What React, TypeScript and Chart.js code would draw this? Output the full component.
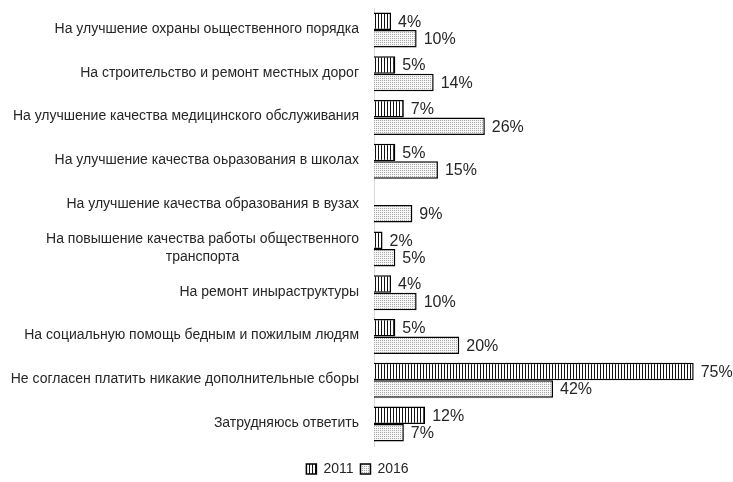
import React, { useEffect, useRef } from "react";
import { Chart, registerables } from "chart.js";

Chart.register(...registerables);

const categories: string[] = [
  "На улучшение охраны оьщественного порядка",
  "На строительство и ремонт местных дорог",
  "На улучшение качества медицинского обслуживания",
  "На улучшение качества оьразования в школах",
  "На улучшение качества образования в вузах",
  "На повышение качества работы общественного\nтранспорта",
  "На ремонт иныраструктуры",
  "На социальную помощь бедным и пожилым людям",
  "Не согласен платить никакие дополнительные сборы",
  "Затрудняюсь ответить",
];
const values2011: (number | null)[] = [4, 5, 7, 5, null, 2, 4, 5, 75, 12];
const values2016: (number | null)[] = [10, 14, 26, 15, 9, 5, 10, 20, 42, 7];
const seriesNames: string[] = ["2011", "2016"];

function makeStripes(): CanvasPattern | string {
  const c = document.createElement("canvas");
  c.width = 3;
  c.height = 3;
  const g = c.getContext("2d");
  if (!g) return "#888";
  g.fillStyle = "#ffffff";
  g.fillRect(0, 0, 3, 3);
  g.fillStyle = "#111111";
  g.fillRect(0, 0, 1, 3);
  return g.createPattern(c, "repeat") || "#888";
}

function makeDots(): CanvasPattern | string {
  const c = document.createElement("canvas");
  c.width = 2;
  c.height = 2;
  const g = c.getContext("2d");
  if (!g) return "#ccc";
  g.fillStyle = "#f6f6f6";
  g.fillRect(0, 0, 2, 2);
  g.fillStyle = "#a8a8a8";
  g.fillRect(0, 0, 1, 1);
  return g.createPattern(c, "repeat") || "#ccc";
}

const FONT = "'Liberation Sans', Arial, sans-serif";

const labelPlugin = {
  id: "customLabels",
  afterDraw(chart: any) {
    const ctx = chart.ctx;
    const yScale = chart.scales.y;
    ctx.save();
    ctx.font = `14px ${FONT}`;
    ctx.fillStyle = "#262626";
    ctx.textBaseline = "middle";
    ctx.textAlign = "center";
    const rightEdge = 359;
    categories.forEach((lab, i) => {
      const lines = lab.split("\n");
      const w = Math.max(...lines.map((l) => ctx.measureText(l).width));
      const cx = rightEdge - w / 2;
      const y0 = yScale.getPixelForTick(i) - 1;
      const lh = 18;
      lines.forEach((l, j) => {
        ctx.fillText(l, cx, y0 + (j - (lines.length - 1) / 2) * lh);
      });
    });
    ctx.font = `16px ${FONT}`;
    ctx.fillStyle = "#262626";
    ctx.textAlign = "left";
    chart.data.datasets.forEach((ds: any, di: number) => {
      const meta = chart.getDatasetMeta(di);
      meta.data.forEach((el: any, i: number) => {
        const v = ds.data[i];
        if (v === null || v === undefined) return;
        ctx.fillText(`${v}%`, el.x + 7, el.y + 1);
      });
    });
    ctx.restore();
  },
};

export default function App() {
  const ref = useRef<HTMLCanvasElement | null>(null);
  useEffect(() => {
    if (!ref.current) return;
    const chart = new Chart(ref.current, {
      type: "bar",
      data: {
        labels: categories,
        datasets: [
          {
            label: seriesNames[0],
            data: values2011,
            backgroundColor: makeStripes() as any,
            borderColor: "#000000",
            borderWidth: 1.5,
            categoryPercentage: 0.8,
            barPercentage: 1.0,
          },
          {
            label: seriesNames[1],
            data: values2016,
            backgroundColor: makeDots() as any,
            borderColor: "#000000",
            borderWidth: 1.5,
            categoryPercentage: 0.8,
            barPercentage: 1.0,
          },
        ],
      },
      options: {
        indexAxis: "y",
        animation: false,
        responsive: true,
        maintainAspectRatio: false,
        layout: { padding: { top: 8, right: 18, bottom: -4, left: 0 } },
        scales: {
          x: {
            min: 0,
            max: 80,
            display: true,
            grid: { display: false },
            border: { display: false },
            ticks: { display: false },
            afterFit: (scale: any) => {
              scale.height = 9;
            },
          },
          y: {
            grid: { display: false },
            border: { display: true, color: "#d9d9d9", width: 1 },
            ticks: { callback: () => "", padding: 0 },
            afterFit: (scale: any) => {
              scale.width = 374;
            },
          },
        },
        plugins: {
          legend: {
            position: "bottom",
            labels: {
              font: { family: FONT, size: 14 },
              color: "#262626",
              boxWidth: 10,
              boxHeight: 10,
              padding: 7,
            },
          },
          tooltip: { enabled: false },
        },
      },
      plugins: [labelPlugin],
    });
    return () => chart.destroy();
  }, []);
  return (
    <div style={{ position: "fixed", left: 0, top: 0, width: 733, height: 482, background: "#fff" }}>
      <canvas ref={ref} />
    </div>
  );
}
